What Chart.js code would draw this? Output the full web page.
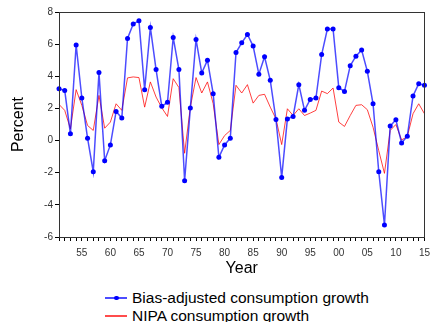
<!DOCTYPE html>
<html>
<head>
<meta charset="utf-8">
<script src="https://cdn.jsdelivr.net/npm/chart.js@4"></script>
<style>
  body { margin: 0; background: #fff; }
  #wrap { position: relative; width: 436px; height: 322px; overflow: hidden; }
  #legend { position: absolute; left: 105px; top: 289px; font: 15.5px "Liberation Sans", Arial, sans-serif; color: #000; }
  .row { height: 18px; display: flex; align-items: center; white-space: nowrap; }
  .swatch { width: 22px; height: 1.5px; margin-right: 5px; position: relative; }
  .dot { position: absolute; left: 9px; top: -1.5px; width: 4.5px; height: 4.5px; border-radius: 50%; background: #0000ff; }
</style>
</head>
<body>
<div id="wrap">
  <canvas id="chart" width="436" height="280"></canvas>
  <div id="legend">
    <div class="row"><span class="swatch" style="background: rgba(0,0,255,0.7)"><span class="dot"></span></span>Bias-adjusted consumption growth</div>
    <div class="row"><span class="swatch" style="background: rgba(255,0,0,0.7)"></span>NIPA consumption growth</div>
  </div>
</div>
<script>
// consumption growth, percent per year

const years = [
  1951, 1952, 1953, 1954, 1955, 1956, 1957, 1958, 1959, 1960,
  1961, 1962, 1963, 1964, 1965, 1966, 1967, 1968, 1969, 1970,
  1971, 1972, 1973, 1974, 1975, 1976, 1977, 1978, 1979, 1980,
  1981, 1982, 1983, 1984, 1985, 1986, 1987, 1988, 1989, 1990,
  1991, 1992, 1993, 1994, 1995, 1996, 1997, 1998, 1999, 2000,
  2001, 2002, 2003, 2004, 2005, 2006, 2007, 2008, 2009, 2010,
  2011, 2012, 2013, 2014, 2015
];

const biasAdjusted = [
  3.22, 3.12, 0.42, 5.95, 2.65, 0.15, -1.94, 4.23, -1.25, -0.27,
  1.81, 1.40, 6.35, 7.25, 7.46, 3.17, 7.04, 4.42, 2.13, 2.38,
  6.42, 4.42, -2.50, 2.02, 6.29, 4.21, 5.00, 2.92, -1.04, -0.27,
  0.15, 5.48, 6.08, 6.60, 5.88, 4.13, 5.21, 3.75, 1.31, -2.29,
  1.35, 1.50, 3.48, 1.88, 2.56, 2.65, 5.35, 6.94, 6.94, 3.29,
  3.06, 4.65, 5.25, 5.63, 4.31, 2.29, -1.94, -5.25, 0.90, 1.29,
  -0.15, 0.27, 2.77, 3.54, 3.44
];

const nipa = [
  2.25, 1.88, 0.73, 3.17, 2.19, 0.94, 0.63, 2.81, 0.77, 1.15,
  2.29, 1.88, 3.90, 3.96, 3.92, 2.08, 3.65, 2.71, 2.04, 1.50,
  3.85, 3.30, -0.79, 2.08, 3.92, 2.96, 3.65, 2.30, -0.25, 0.31,
  0.63, 3.44, 2.96, 3.48, 2.33, 2.81, 2.88, 2.08, 1.35, -0.25,
  1.98, 1.56, 1.98, 1.56, 1.71, 1.88, 3.08, 2.92, 3.27, 1.15,
  0.88, 1.56, 2.19, 2.23, 1.92, 0.83, -0.63, -2.04, 0.63, 1.00,
  0.04, 0.25, 1.67, 2.29, 1.67
];

const font = "'Liberation Sans', Arial, sans-serif";

// box around the plot (top and right sides too)
const frame = {
  id: 'frame',
  afterDraw(chart) {
    const a = chart.chartArea;
    const c = chart.ctx;
    c.save();
    c.strokeStyle = '#333';
    c.lineWidth = 1;
    c.strokeRect(Math.round(a.left) + 0.5, Math.round(a.top) + 0.5,
                 Math.round(a.right - a.left), Math.round(a.bottom - a.top));
    c.restore();
  }
};

new Chart(document.getElementById('chart'), {
  type: 'line',
  data: {
    labels: years,
    datasets: [{
      label: 'Bias-adjusted consumption growth',
      data: biasAdjusted,
      borderColor: 'rgba(0,0,255,0.7)',
      borderWidth: 1.5,
      pointRadius: 2.5,
      pointBackgroundColor: '#0000ff',
      pointBorderWidth: 0,
      tension: 0
    }, {
      label: 'NIPA consumption growth',
      data: nipa,
      borderColor: 'rgba(255,0,0,0.75)',
      borderWidth: 1,
      pointRadius: 0,
      tension: 0
    }]
  },
  options: {
    responsive: false,
    animation: false,
    layout: { padding: { top: 12, right: 5, left: 0, bottom: 0 } },
    plugins: {
      legend: { display: false },
      tooltip: { enabled: false }
    },
    scales: {
      x: {
        offset: false,
        grid: { drawOnChartArea: false, tickLength: 4, color: '#000' },
        border: { color: '#000' },
        ticks: {
          autoSkip: false,
          maxRotation: 0,
          padding: 6,
          color: '#333',
          font: { size: 10, family: font },
          callback: (v, i) => years[i] % 5 === 0 ? String(years[i] % 100).padStart(2, '0') : ''
        },
        title: {
          display: true, text: 'Year', color: '#000',
          font: { size: 16, family: font },
          padding: { top: 0, bottom: 2 }
        },
        afterFit: s => { s.height = 43; }
      },
      y: {
        min: -6,
        max: 8,
        grid: { drawOnChartArea: false, tickLength: 4, color: '#000' },
        border: { color: '#000' },
        ticks: {
          stepSize: 2,
          padding: 2,
          color: '#333',
          font: { size: 10, family: font }
        },
        title: {
          display: true, text: 'Percent', color: '#000',
          font: { size: 16, family: font },
          padding: { top: 9, bottom: 0 }
        },
        afterFit: s => { s.width = 59; }
      }
    }
  },
  plugins: [frame]
});
</script>
</body>
</html>
